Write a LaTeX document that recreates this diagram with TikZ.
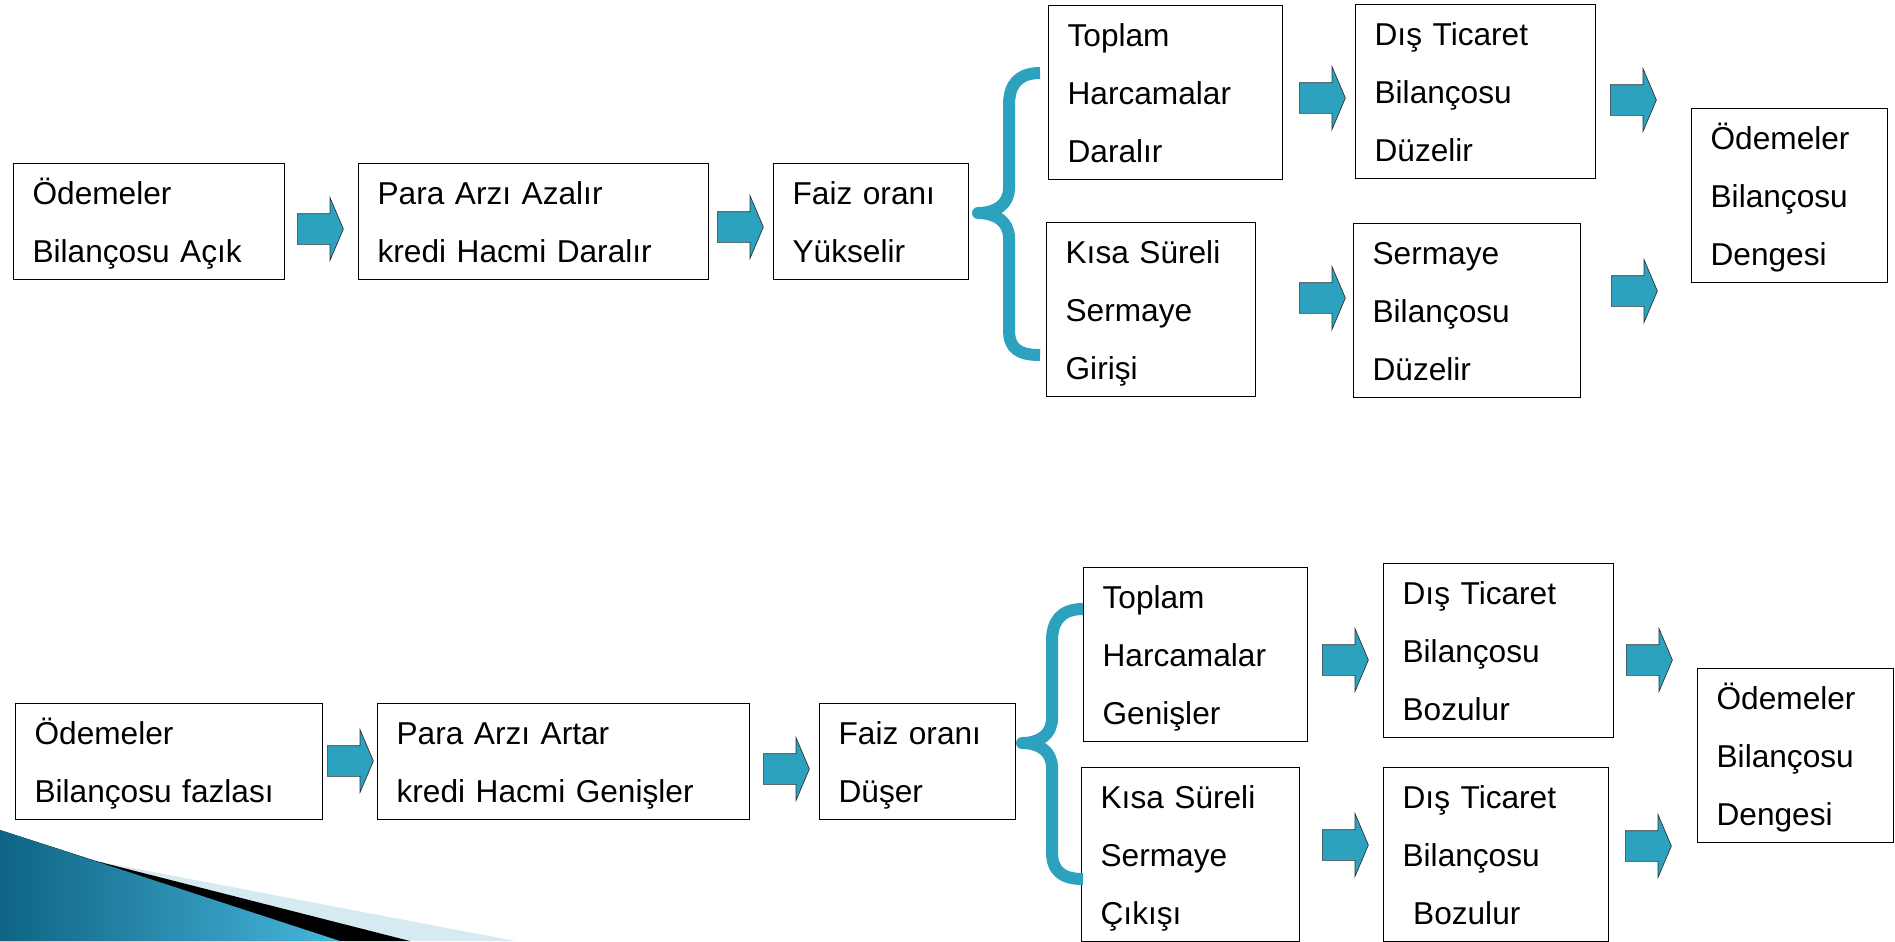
\documentclass[tikz,border=0pt]{standalone}
\usepackage{fontspec}
\setmainfont{Liberation Sans}
\usetikzlibrary{shapes.arrows}
\definecolor{flowteal}{RGB}{44,162,190}
\definecolor{bandblue}{RGB}{214,234,242}
\definecolor{deepblue}{RGB}{14,100,132}
\definecolor{lightsea}{RGB}{72,182,220}

\begin{document}
\begin{tikzpicture}[
    x=0.02cm, y=-0.02cm,
    font=\fontsize{18}{33}\selectfont,
    box/.style={draw=black, line width=0.7pt, anchor=north west, align=left,
        inner xsep=0.38cm, inner ysep=0pt, text width=#1,
        execute at begin node=\strut, execute at end node=\strut},
    push/.style={single arrow, draw=black!80, line width=0.4pt, fill=flowteal,
        anchor=tail, inner xsep=0pt, inner ysep=0.3cm, minimum height=0.92cm,
        single arrow head extend=0.32cm, single arrow tip angle=134},
    brace/.style={draw=flowteal, line width=0.24cm, line join=round}
]
    \useasboundingbox (0,0) rectangle (1895,941);

    % slide corner
    \fill[bandblue] (0,830) -- (96,861) -- (515,941) -- (0,941) -- cycle;
    \fill[black] (0,830) -- (96,861) -- (410,941) -- (0,941) -- cycle;
    \shade[left color=deepblue, right color=lightsea]
        (0,830) -- (340,941) -- (0,941) -- cycle;

    % upper chain
    \node[box=4.66cm] (acik) at (13,163) {Ödemeler\\Bilançosu Açık};
    \node[box=6.24cm] (paraaz) at (358,163) {Para Arzı Azalır\\kredi Hacmi Daralır};
    \node[box=3.14cm] (faizup) at (773,163) {Faiz oranı\\Yükselir};
    \node[box=3.92cm] (harcdar) at (1048,5) {Toplam\\Harcamalar\\Daralır};
    \node[box=3.42cm] (sermgir) at (1046,222) {Kısa Süreli\\Sermaye\\Girişi};
    \node[box=4.04cm] (disduz) at (1355,4) {Dış Ticaret\\Bilançosu\\Düzelir};
    \node[box=3.78cm] (sermduz) at (1353,223) {Sermaye\\Bilançosu\\Düzelir};
    \node[box=3.16cm] (dengeust) at (1691,108) {Ödemeler\\Bilançosu\\Dengesi};

    \node[push] (u1) at (297,229) {};
    \node[push] (u2) at (717,227) {};
    \node[push] (u3) at (1299,98) {};
    \node[push] (u4) at (1299,298) {};
    \node[push] (u5) at (1610,100) {};
    \node[push] (u6) at (1611,291) {};

    \draw[brace] (1040,73) .. controls (1018,73) and (1009,85) .. (1009,105)
        -- (1009,188) .. controls (1009,205) and (995,213) .. (978,213)
        .. controls (995,213) and (1009,221) .. (1009,238)
        -- (1009,330) .. controls (1009,348) and (1018,355) .. (1040,355);

    % lower chain
    \node[box=5.38cm] (fazla) at (15,703) {Ödemeler\\Bilançosu fazlası};
    \node[box=6.68cm] (paraart) at (377,703) {Para Arzı Artar\\kredi Hacmi Genişler};
    \node[box=3.16cm] (faizdown) at (819,703) {Faiz oranı\\Düşer};
    \node[box=3.72cm] (harcgen) at (1083,567) {Toplam\\Harcamalar\\Genişler};
    \node[box=3.60cm] (sermcik) at (1081,767) {Kısa Süreli\\Sermaye\\Çıkışı};
    \node[box=3.84cm] (disboz) at (1383,563) {Dış Ticaret\\Bilançosu\\Bozulur};
    \node[box=3.74cm] (disbozb) at (1383,767) {Dış Ticaret\\Bilançosu\\\ Bozulur};
    \node[box=3.16cm] (dengealt) at (1697,668) {Ödemeler\\Bilançosu\\Dengesi};

    \node[push] (l1) at (327,761) {};
    \node[push] (l2) at (763,769) {};
    \node[push] (l3) at (1322,660) {};
    \node[push] (l4) at (1322,845) {};
    \node[push] (l5) at (1626,660) {};
    \node[push] (l6) at (1625,846) {};

    \draw[brace] (1083,609) .. controls (1061,609) and (1052,621) .. (1052,641)
        -- (1052,718) .. controls (1052,735) and (1039,743) .. (1022,743)
        .. controls (1039,743) and (1052,751) .. (1052,768)
        -- (1052,852) .. controls (1052,870) and (1061,879) .. (1083,879);
\end{tikzpicture}
\end{document}
